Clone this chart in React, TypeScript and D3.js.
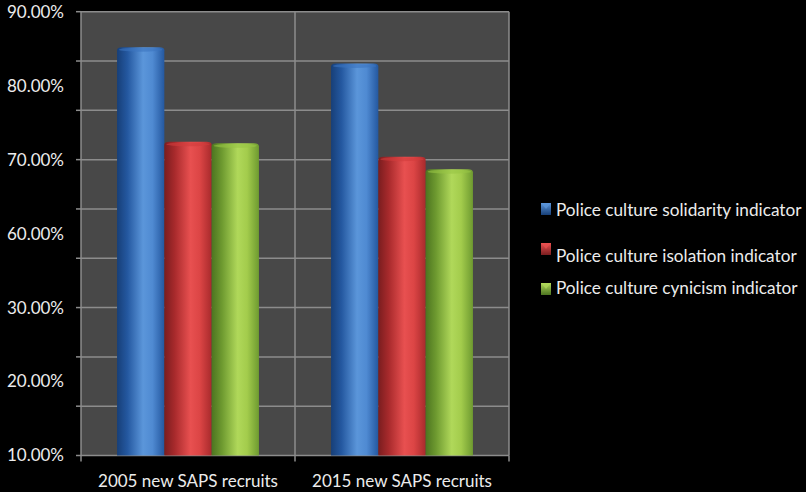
import React from "react";
import * as d3 from "d3";

const categories = ["2005 new SAPS recruits", "2015 new SAPS recruits"];
const seriesNames = [
  "Police culture solidarity indicator",
  "Police culture isolation indicator",
  "Police culture cynicism indicator",
];
const solidarity = [84.8, 82.6];
const isolation = [72.0, 70.0];
const cynicism = [71.8, 68.3];
const tickValues = [90, 80, 70, 60, 30, 20, 10];
const tickLabels = ["90.00%", "80.00%", "70.00%", "60.00%", "30.00%", "20.00%", "10.00%"];
const gridCount = 9;

const W = 806;
const H = 492;
const M = { left: 81, right: 509, top: 11.7, bottom: 455.5 };

const colors = [
  { dark: "#173f78", mid: "#4f8ad2", light: "#5b96da", edge: "#2458a0", cap: "#3c74c0" },
  { dark: "#7a1d1f", mid: "#dc4545", light: "#e85050", edge: "#a82a2c", cap: "#d23c3c" },
  { dark: "#4c7420", mid: "#a3cc4c", light: "#b0d85a", edge: "#6e9a30", cap: "#98c444" },
];

const FONT = "Lato, 'Open Sans', sans-serif";

export default function App() {
  const series = [solidarity, isolation, cynicism];
  const labelPos = d3
    .scalePoint<number>()
    .domain(d3.range(tickValues.length))
    .range([M.top, M.bottom]);
  const y = d3
    .scaleLinear()
    .domain(tickValues)
    .range(tickValues.map((_, i) => labelPos(i) as number));
  const grid = d3.scaleLinear().domain([0, gridCount]).range([M.bottom, M.top]);
  const x0 = d3.scaleBand().domain(categories).range([M.left, M.right]).paddingInner(0).paddingOuter(0);
  const barW = 47.3;
  const x1 = d3
    .scaleBand()
    .domain(seriesNames)
    .range([0, barW * 3]);

  return (
    <div style={{ position: "absolute", left: 0, top: 0, width: W, height: H, background: "#000" }}>
      <svg width={W} height={H} style={{ display: "block", background: "#000" }}>
        <defs>
          {colors.map((c, i) => (
            <linearGradient key={i} id={`g${i}`} x1="0" x2="1" y1="0" y2="0">
              <stop offset="0%" stopColor={c.dark} />
              <stop offset="22%" stopColor={c.edge} />
              <stop offset="55%" stopColor={c.light} />
              <stop offset="75%" stopColor={c.mid} />
              <stop offset="100%" stopColor={c.edge} />
            </linearGradient>
          ))}
          {colors.map((c, i) => (
            <linearGradient key={"l" + i} id={`lg${i}`} x1="0" x2="0" y1="0" y2="1">
              <stop offset="0%" stopColor={c.light} />
              <stop offset="100%" stopColor={c.dark} />
            </linearGradient>
          ))}
        </defs>
        <rect x={M.left} y={M.top} width={M.right - M.left} height={M.bottom - M.top} fill="#484848" />
        {d3.range(gridCount + 1).map((i) => (
          <g key={i}>
            <line x1={M.left} x2={M.right} y1={grid(i)} y2={grid(i)} stroke="#8c8c8c" strokeWidth={1.5} />
            <line x1={M.left - 5} x2={M.left} y1={grid(i)} y2={grid(i)} stroke="#8c8c8c" strokeWidth={1.5} />
          </g>
        ))}
        {[M.left, x0(categories[1]) as number, M.right].map((xv, i) => (
          <g key={i}>
            <line x1={xv} x2={xv} y1={M.top} y2={M.bottom} stroke="#8c8c8c" strokeWidth={1.5} />
            <line x1={xv} x2={xv} y1={M.bottom} y2={M.bottom + 6} stroke="#8c8c8c" strokeWidth={1.5} />
          </g>
        ))}
        {categories.map((cat, ci) => {
          const gx = (x0(cat) as number) + (x0.bandwidth() - barW * 3) / 2;
          return (
            <g key={cat}>
              {series.map((s, si) => {
                const bx = gx + (x1(seriesNames[si]) as number);
                const top = y(s[ci]);
                const capH = 3;
                return (
                  <g key={si}>
                    <path
                      d={`M${bx},${M.bottom} L${bx},${top} Q${bx},${top - capH} ${bx + 5},${top - capH} L${bx + barW - 5},${top - capH} Q${bx + barW},${top - capH} ${bx + barW},${top} L${bx + barW},${M.bottom} Z`}
                      fill={`url(#g${si})`}
                    />
                    <ellipse cx={bx + barW / 2} cy={top - 0.5} rx={barW / 2 - 2} ry={2} fill={colors[si].cap} opacity={0.6} />
                  </g>
                );
              })}
              <text
                x={(x0(cat) as number) + x0.bandwidth() / 2}
                y={487}
                textAnchor="middle"
                fill="#ececec"
                fontFamily={FONT}
                fontSize={17}
              >
                {cat}
              </text>
            </g>
          );
        })}
        {tickValues.map((v, i) => (
          <text
            key={v}
            x={64}
            y={y(v)}
            dy="0.35em"
            textAnchor="end"
            fill="#ececec"
            fontFamily={FONT}
            fontSize={17}
          >
            {tickLabels[i]}
          </text>
        ))}
        {seriesNames.map((name, i) => {
          const ly = [216, 262, 294][i];
          const my = [203, 243, 283][i];
          return (
            <g key={name}>
              <rect x={541} y={my} width={10} height={12} fill={`url(#lg${i})`} />
              <path d={`M${541},${my} L${551},${my} L${546},${my + 6} Z`} fill={colors[i].light} opacity={0.7} />
              <text x={556} y={ly} fill="#ececec" fontFamily={FONT} fontSize={17.2}>
                {name}
              </text>
            </g>
          );
        })}
      </svg>
    </div>
  );
}
